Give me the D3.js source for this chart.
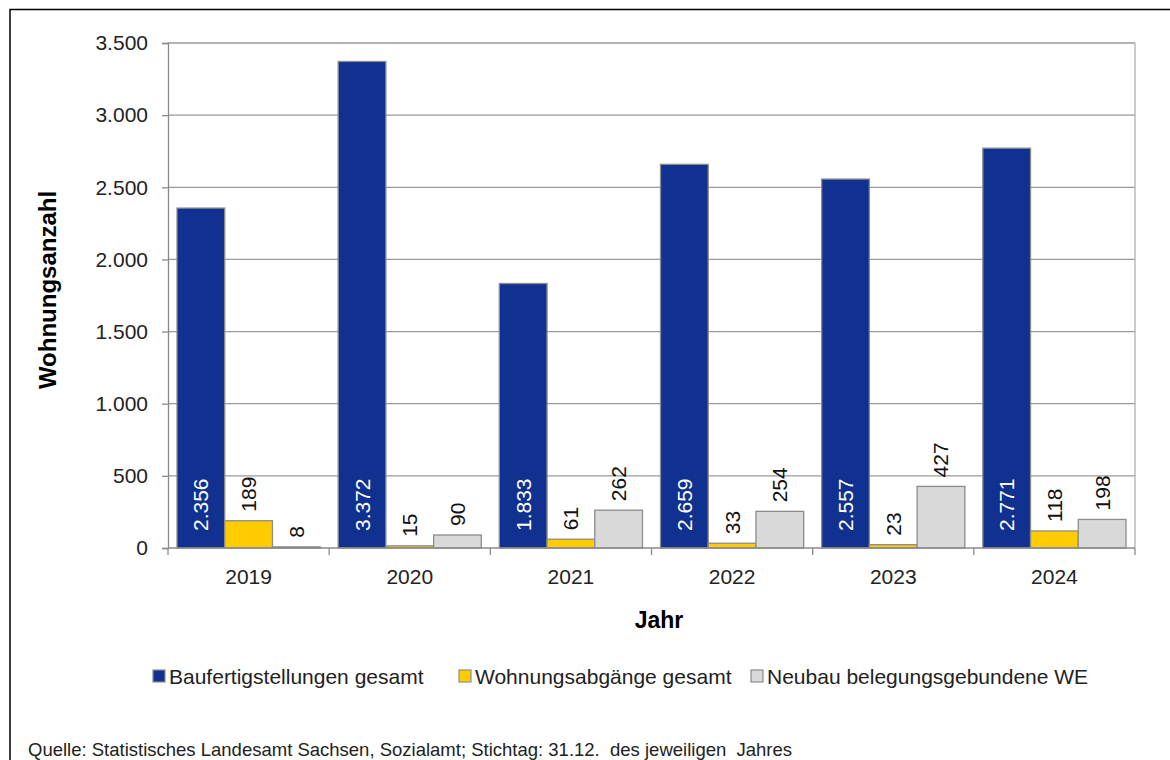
<!DOCTYPE html>
<html>
<head>
<meta charset="utf-8">
<script src="https://cdn.jsdelivr.net/npm/d3@7"></script>
<style>
  body { margin: 0; background: #fff; }
  svg { display: block; font-family: "Liberation Sans", Arial, sans-serif; }
</style>
</head>
<body>
<div id="chart"></div>
<script>
// data
const years = ['2019', '2020', '2021', '2022', '2023', '2024'];
const seriesNames = ['Baufertigstellungen gesamt', 'Wohnungsabgänge gesamt', 'Neubau belegungsgebundene WE'];
const baufertig = [2356, 3372, 1833, 2659, 2557, 2771];
const abgaenge = [189, 15, 61, 33, 23, 118];
const neubau = [8, 90, 262, 254, 427, 198];
const yTicks = [0, 500, 1000, 1500, 2000, 2500, 3000, 3500];
const colors = ['#10318f', '#ffcc00', '#d9d9d9'];

const W = 1170, H = 760;
const m = { left: 168, right: 1135, top: 43, bottom: 548 };

const svg = d3.select('#chart').append('svg')
  .attr('width', W).attr('height', H);

// outer frame (top + left only visible)
svg.append('path')
  .attr('d', `M10,${H} L10,9.5 L${W},9.5`)
  .attr('fill', 'none').attr('stroke', '#000').attr('stroke-width', 1.5);

const x0 = d3.scaleBand().domain(years).range([m.left, m.right]);
const x1 = d3.scaleBand().domain(d3.range(3)).range([9, x0.bandwidth() - 9]);
const y = d3.scaleLinear().domain([0, 3500]).range([m.bottom, m.top]);

const fmt = v => d3.format(',')(v).replace(/,/g, '.');

// gridlines
svg.append('g').selectAll('line')
  .data(yTicks.filter(t => t > 0)).enter()
  .append('line')
    .attr('x1', m.left).attr('x2', m.right)
    .attr('y1', d => y(d)).attr('y2', d => y(d))
    .attr('stroke', '#9a9a9a').attr('stroke-width', 1.3);

// right border of plot area
svg.append('line')
  .attr('x1', m.right).attr('x2', m.right)
  .attr('y1', m.top).attr('y2', m.bottom)
  .attr('stroke', '#b0b0b0').attr('stroke-width', 1.3);

// y axis
const yAxis = svg.append('g')
  .attr('transform', `translate(${m.left},0)`)
  .call(d3.axisLeft(y).tickValues(yTicks).tickSize(6).tickPadding(14).tickFormat(fmt));
yAxis.select('.domain').attr('stroke', '#8a8a8a').attr('stroke-width', 1.3);
yAxis.selectAll('.tick line').attr('stroke', '#8a8a8a').attr('stroke-width', 1.3);
yAxis.selectAll('.tick text')
  .attr('font-size', '21px').attr('fill', '#222').attr('font-family', 'Liberation Sans, Arial, sans-serif');

// bars
const series = [baufertig, abgaenge, neubau];
const groups = svg.append('g').selectAll('g')
  .data(years).enter()
  .append('g')
    .attr('transform', d => `translate(${x0(d)},0)`);

groups.selectAll('rect')
  .data((d, i) => series.map((s, k) => ({ k: k, v: s[i] }))).enter()
  .append('rect')
    .attr('x', d => x1(d.k))
    .attr('width', x1.bandwidth())
    .attr('y', d => y(d.v))
    .attr('height', d => y(0) - y(d.v))
    .attr('fill', d => colors[d.k])
    .attr('stroke', '#8c8c8c').attr('stroke-width', 1.3);

// data labels
groups.selectAll('text.lbl')
  .data((d, i) => series.map((s, k) => ({ k: k, v: s[i] }))).enter()
  .append('text')
    .attr('class', 'lbl')
    .attr('transform', d => {
      const cx = x1(d.k) + x1.bandwidth() / 2;
      const yy = d.k === 0 ? y(0) - 17 : y(d.v) - 9;
      return `translate(${cx},${yy}) rotate(-90)`;
    })
    .attr('dominant-baseline', 'central')
    .attr('font-size', '21px')
    .attr('fill', d => d.k === 0 ? '#fff' : '#111')
    .text(d => fmt(d.v));

// x axis
const xAxisG = svg.append('g').attr('transform', `translate(0,${m.bottom})`);
xAxisG.append('line')
  .attr('x1', m.left).attr('x2', m.right)
  .attr('stroke', '#8a8a8a').attr('stroke-width', 1.3);
xAxisG.selectAll('line.tk')
  .data(years.map(d => x0(d)).concat([m.right])).enter()
  .append('line')
    .attr('class', 'tk')
    .attr('x1', d => d).attr('x2', d => d)
    .attr('y1', 0).attr('y2', 7)
    .attr('stroke', '#8a8a8a').attr('stroke-width', 1.3);
xAxisG.selectAll('text')
  .data(years).enter()
  .append('text')
    .attr('x', d => x0(d) + x0.bandwidth() / 2)
    .attr('y', 36)
    .attr('text-anchor', 'middle')
    .attr('font-size', '21px')
    .attr('fill', '#222')
    .text(d => d);

// axis titles
svg.append('text')
  .attr('x', 659).attr('y', 628)
  .attr('text-anchor', 'middle')
  .attr('font-size', '23px').attr('font-weight', 'bold')
  .text('Jahr');

svg.append('text')
  .attr('transform', 'translate(56,290) rotate(-90)')
  .attr('text-anchor', 'middle')
  .attr('font-size', '24px').attr('font-weight', 'bold')
  .text('Wohnungsanzahl');

// legend
const legendX = [153, 459, 751];
const lg = svg.append('g').selectAll('g')
  .data(seriesNames).enter()
  .append('g')
    .attr('transform', (d, i) => `translate(${legendX[i]},676)`);
lg.append('rect')
  .attr('x', 0).attr('y', -6).attr('width', 12).attr('height', 12)
  .attr('fill', (d, i) => colors[i])
  .attr('stroke', '#8c8c8c').attr('stroke-width', 1.2);
lg.append('text')
  .attr('x', 16).attr('y', 0)
  .attr('dominant-baseline', 'central')
  .attr('font-size', '21px').attr('fill', '#222')
  .text(d => d);

// source
svg.append('text')
  .attr('x', 28).attr('y', 756)
  .attr('font-size', '18.5px').attr('fill', '#222')
  .attr('xml:space', 'preserve')
  .text('Quelle: Statistisches Landesamt Sachsen, Sozialamt; Stichtag: 31.12.  des jeweiligen  Jahres');
</script>
</body>
</html>
